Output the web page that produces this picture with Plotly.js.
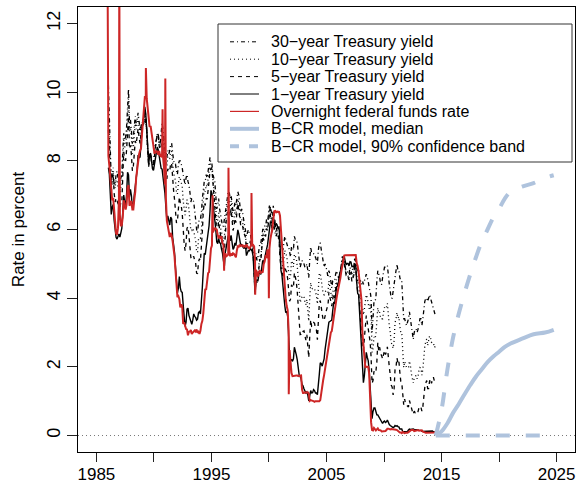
<!DOCTYPE html>
<html>
<head>
<meta charset="utf-8">
<script src="https://cdn.plot.ly/plotly-3.0.1.min.js"></script>
<style>html,body{margin:0;padding:0;background:#fff;}#chart{width:580px;height:485px;}</style>
</head>
<body>
<div id="chart"></div>
<script>
// Monthly series, first value = Jan 1986, last = Jun 2014
const startYear = 1986;

const y30 = [
10.2, 9.4, 8.1, 7.4, 7.6, 7.6, 7.3, 7.3, 7.6, 7.7, 7.5, 7.4,
7.4, 7.5, 7.6, 8.3, 8.8, 8.6, 8.7, 9.0, 9.7, 10.1, 9.1, 9.2,
8.9, 8.5, 8.7, 9.0, 9.3, 9.1, 9.2, 9.4, 9.1, 8.9, 9.0, 9.1,
9.0, 9.1, 9.3, 9.1, 8.9, 8.3, 8.1, 8.2, 8.2, 8.0, 7.9, 7.9,
8.3, 8.5, 8.6, 8.8, 8.8, 8.5, 8.5, 8.9, 9.1, 8.9, 8.6, 8.3,
8.3, 8.1, 8.3, 8.2, 8.3, 8.5, 8.5, 8.2, 8.0, 7.9, 7.9, 7.7,
7.6, 7.9, 8.0, 8.0, 7.9, 7.8, 7.6, 7.4, 7.3, 7.5, 7.6, 7.4,
7.3, 7.1, 6.8, 6.9, 6.9, 6.8, 6.6, 6.3, 6.0, 5.9, 6.2, 6.3,
6.3, 6.5, 6.9, 7.3, 7.4, 7.4, 7.6, 7.5, 7.7, 7.9, 8.1, 7.9,
7.9, 7.6, 7.5, 7.4, 7.0, 6.6, 6.7, 6.9, 6.6, 6.4, 6.3, 6.1,
6.1, 6.3, 6.6, 6.8, 7.0, 7.1, 7.1, 6.9, 7.0, 6.8, 6.5, 6.6,
6.8, 6.7, 6.9, 7.1, 7.0, 6.8, 6.5, 6.6, 6.5, 6.3, 6.1, 6.0,
5.8, 5.9, 6.0, 5.9, 5.9, 5.7, 5.7, 5.5, 5.2, 5.0, 5.3, 5.1,
5.2, 5.4, 5.6, 5.6, 5.8, 6.0, 6.0, 6.1, 6.1, 6.3, 6.2, 6.4,
6.7, 6.4, 6.1, 5.9, 6.2, 6.0, 5.9, 5.8, 5.9, 5.8, 5.8, 5.5,
5.5, 5.5, 5.4, 5.7, 5.8, 5.7, 5.6, 5.5, 5.5, 5.3, 5.2, 5.5,
5.5, 5.4, 5.8, 5.7, 5.7, 5.6, 5.4, 5.1, 4.9, 5.0, 5.1, 5.0,
5.0, 4.9, 4.9, 5.0, 4.7, 4.6, 5.1, 5.5, 5.3, 5.3, 5.3, 5.2,
5.2, 5.1, 5.0, 5.4, 5.6, 5.6, 5.4, 5.2, 5.0, 4.9, 5.0, 4.9,
4.8, 4.6, 4.8, 4.7, 4.5, 4.3, 4.5, 4.5, 4.5, 4.7, 4.8, 4.7,
4.6, 4.6, 4.8, 5.1, 5.2, 5.2, 5.1, 4.9, 4.8, 4.8, 4.7, 4.7,
4.9, 4.8, 4.7, 4.9, 4.9, 5.2, 5.1, 4.9, 4.8, 4.8, 4.5, 4.5,
4.4, 4.5, 4.4, 4.5, 4.6, 4.7, 4.6, 4.5, 4.3, 4.2, 4.0, 3.0,
3.4, 3.9, 3.9, 4.0, 4.5, 4.8, 4.7, 4.6, 4.4, 4.4, 4.6, 4.8,
4.9, 4.9, 4.9, 4.95, 4.6, 4.4, 4.2, 4.0, 4.0, 4.2, 4.5, 4.7,
4.8, 5.0, 4.8, 4.8, 4.6, 4.5, 4.5, 3.9, 3.4, 3.4, 3.3, 3.2,
3.3, 3.4, 3.6, 3.4, 3.1, 2.9, 2.8, 3.0, 3.1, 3.1, 3.0, 3.1,
3.3, 3.4, 3.4, 3.2, 3.4, 3.7, 3.9, 4.0, 4.0, 3.9, 4.0, 4.1,
4.0, 3.9, 3.8, 3.7, 3.6, 3.5
];

const y10 = [
9.6, 8.9, 7.8, 7.3, 7.7, 7.8, 7.3, 7.2, 7.45, 7.43, 7.25, 7.11,
7.08, 7.25, 7.25, 8.02, 8.61, 8.40, 8.45, 8.76, 9.42, 9.8, 8.86, 8.99,
8.67, 8.21, 8.37, 8.72, 9.09, 8.92, 9.06, 9.26, 8.98, 8.80, 8.96, 9.11,
9.09, 9.17, 9.36, 9.18, 8.86, 8.28, 8.02, 8.11, 8.19, 8.01, 7.87, 7.84,
8.21, 8.47, 8.59, 8.79, 8.76, 8.48, 8.47, 8.75, 8.89, 8.72, 8.39, 8.08,
8.09, 7.85, 8.11, 8.04, 8.07, 8.28, 8.27, 7.90, 7.65, 7.53, 7.42, 7.09,
7.03, 7.34, 7.54, 7.48, 7.39, 7.26, 6.84, 6.59, 6.42, 6.59, 6.87, 6.77,
6.60, 6.26, 5.98, 5.97, 6.04, 5.96, 5.81, 5.68, 5.36, 5.33, 5.72, 5.77,
5.75, 5.97, 6.48, 6.97, 7.18, 7.10, 7.30, 7.24, 7.46, 7.74, 7.96, 7.81,
7.78, 7.47, 7.20, 7.06, 6.63, 6.17, 6.28, 6.49, 6.20, 6.04, 5.93, 5.71,
5.65, 5.81, 6.27, 6.51, 6.74, 6.91, 6.87, 6.64, 6.83, 6.53, 6.20, 6.30,
6.58, 6.42, 6.69, 6.89, 6.71, 6.49, 6.22, 6.30, 6.21, 6.03, 5.88, 5.81,
5.54, 5.57, 5.65, 5.64, 5.65, 5.50, 5.46, 5.34, 4.81, 4.53, 4.83, 4.65,
4.72, 5.00, 5.23, 5.18, 5.54, 5.90, 5.79, 5.94, 5.92, 6.11, 6.03, 6.28,
6.66, 6.52, 6.26, 5.99, 6.44, 6.10, 6.05, 5.83, 5.80, 5.74, 5.72, 5.24,
5.16, 5.10, 4.89, 5.14, 5.39, 5.28, 5.24, 4.97, 4.73, 4.57, 4.65, 5.09,
5.04, 4.91, 5.28, 5.21, 5.16, 4.93, 4.65, 4.26, 3.87, 3.94, 4.05, 4.03,
4.05, 3.90, 3.81, 3.96, 3.57, 3.33, 3.98, 4.45, 4.27, 4.29, 4.30, 4.27,
4.15, 4.08, 3.83, 4.35, 4.72, 4.73, 4.50, 4.28, 4.13, 4.10, 4.19, 4.23,
4.22, 4.17, 4.50, 4.34, 4.14, 4.00, 4.18, 4.26, 4.20, 4.46, 4.54, 4.47,
4.42, 4.57, 4.72, 4.99, 5.11, 5.11, 5.09, 4.88, 4.72, 4.73, 4.60, 4.56,
4.76, 4.72, 4.56, 4.69, 4.75, 5.10, 5.00, 4.67, 4.52, 4.53, 4.15, 4.10,
3.74, 3.74, 3.51, 3.68, 3.88, 4.10, 4.01, 3.89, 3.69, 3.81, 3.53, 2.42,
2.52, 2.87, 2.82, 2.93, 3.29, 3.72, 3.56, 3.59, 3.40, 3.39, 3.40, 3.59,
3.73, 3.69, 3.73, 3.85, 3.42, 3.20, 3.01, 2.70, 2.65, 2.54, 2.76, 3.29,
3.39, 3.58, 3.41, 3.46, 3.17, 3.00, 3.00, 2.30, 1.98, 2.15, 2.01, 1.98,
1.97, 1.97, 2.17, 2.05, 1.80, 1.62, 1.53, 1.68, 1.72, 1.75, 1.65, 1.72,
1.91, 1.98, 1.96, 1.76, 1.93, 2.30, 2.58, 2.74, 2.81, 2.62, 2.72, 2.90,
2.86, 2.71, 2.72, 2.71, 2.56, 2.60
];

const y5 = [
8.9, 8.4, 7.46, 7.05, 7.52, 7.64, 7.06, 6.80, 6.92, 6.83, 6.76, 6.67,
6.64, 6.79, 6.79, 7.57, 8.26, 8.02, 8.01, 8.32, 8.94, 9.3, 8.35, 8.45,
8.18, 7.71, 7.83, 8.19, 8.58, 8.49, 8.66, 8.94, 8.69, 8.51, 8.79, 9.09,
9.15, 9.27, 9.51, 9.30, 8.91, 8.29, 7.83, 8.09, 8.17, 7.97, 7.81, 7.75,
8.12, 8.42, 8.60, 8.77, 8.74, 8.43, 8.33, 8.44, 8.51, 8.33, 8.02, 7.73,
7.70, 7.47, 7.77, 7.70, 7.70, 7.94, 7.91, 7.43, 7.14, 6.87, 6.62, 6.19,
6.24, 6.58, 6.95, 6.78, 6.69, 6.48, 5.84, 5.60, 5.38, 5.60, 6.04, 6.08,
5.83, 5.43, 5.19, 5.13, 5.20, 5.22, 5.09, 5.03, 4.73, 4.71, 5.06, 5.15,
5.09, 5.40, 5.94, 6.52, 6.78, 6.70, 6.91, 6.88, 7.08, 7.40, 7.72, 7.78,
7.76, 7.37, 7.05, 6.86, 6.41, 5.93, 6.01, 6.24, 6.00, 5.86, 5.69, 5.51,
5.36, 5.38, 5.97, 6.30, 6.48, 6.69, 6.64, 6.39, 6.60, 6.27, 5.97, 6.07,
6.33, 6.20, 6.54, 6.76, 6.57, 6.38, 6.12, 6.16, 6.11, 5.93, 5.80, 5.77,
5.42, 5.49, 5.61, 5.61, 5.63, 5.52, 5.46, 5.27, 4.62, 4.18, 4.54, 4.45,
4.60, 4.91, 5.14, 5.08, 5.44, 5.81, 5.68, 5.84, 5.80, 6.03, 5.97, 6.19,
6.58, 6.68, 6.50, 6.26, 6.69, 6.30, 6.18, 6.06, 5.93, 5.78, 5.70, 5.17,
4.86, 4.89, 4.64, 4.76, 4.93, 4.81, 4.76, 4.57, 4.12, 3.91, 3.97, 4.39,
4.34, 4.30, 4.74, 4.65, 4.49, 4.19, 3.81, 3.29, 2.94, 2.95, 3.05, 3.03,
3.05, 2.90, 2.78, 2.93, 2.52, 2.27, 2.87, 3.37, 3.18, 3.19, 3.29, 3.27,
3.12, 3.07, 2.79, 3.39, 3.85, 3.93, 3.69, 3.47, 3.36, 3.35, 3.53, 3.60,
3.71, 3.77, 4.17, 4.00, 3.85, 3.77, 3.98, 4.12, 4.01, 4.33, 4.45, 4.39,
4.35, 4.57, 4.72, 4.90, 5.00, 5.07, 5.04, 4.82, 4.67, 4.69, 4.58, 4.53,
4.75, 4.71, 4.48, 4.59, 4.67, 5.03, 4.88, 4.43, 4.20, 4.20, 3.67, 3.49,
2.98, 2.78, 2.48, 2.84, 3.15, 3.49, 3.30, 3.14, 2.88, 2.73, 2.29, 1.52,
1.60, 1.87, 1.82, 1.86, 2.13, 2.71, 2.46, 2.57, 2.37, 2.33, 2.23, 2.34,
2.48, 2.36, 2.43, 2.58, 2.18, 2.00, 1.76, 1.47, 1.41, 1.18, 1.35, 1.93,
1.99, 2.26, 2.11, 2.17, 1.84, 1.58, 1.54, 1.02, 0.90, 1.06, 0.91, 0.89,
0.84, 0.83, 1.02, 0.89, 0.76, 0.71, 0.62, 0.71, 0.67, 0.71, 0.67, 0.70,
0.81, 0.85, 0.82, 0.71, 0.84, 1.20, 1.40, 1.52, 1.60, 1.37, 1.37, 1.58,
1.65, 1.52, 1.64, 1.70, 1.59, 1.68
];

const y1 = [
7.8, 7.61, 7.03, 6.44, 6.65, 6.73, 6.27, 5.93, 5.77, 5.72, 5.80, 5.87,
5.78, 5.96, 6.03, 6.50, 7.00, 6.80, 6.68, 7.03, 7.67, 7.59, 6.96, 7.17,
6.99, 6.64, 6.71, 7.01, 7.40, 7.49, 7.75, 8.17, 8.09, 8.11, 8.48, 8.99,
9.05, 9.25, 9.57, 9.36, 8.98, 8.44, 7.89, 8.18, 8.22, 7.99, 7.77, 7.72,
7.92, 8.11, 8.35, 8.40, 8.32, 8.10, 7.94, 7.78, 7.76, 7.55, 7.31, 7.05,
6.64, 6.27, 6.40, 6.24, 6.13, 6.36, 6.31, 5.78, 5.57, 5.33, 4.89, 4.38,
4.15, 4.29, 4.63, 4.30, 4.19, 4.17, 3.60, 3.47, 3.18, 3.30, 3.68, 3.71,
3.50, 3.39, 3.33, 3.24, 3.36, 3.54, 3.47, 3.44, 3.36, 3.39, 3.58, 3.61,
3.54, 3.87, 4.32, 4.82, 5.31, 5.27, 5.48, 5.56, 5.76, 6.11, 6.54, 7.14,
7.05, 6.70, 6.43, 6.27, 6.00, 5.64, 5.59, 5.75, 5.62, 5.59, 5.43, 5.31,
5.09, 4.94, 5.34, 5.54, 5.64, 5.81, 5.85, 5.67, 5.83, 5.55, 5.42, 5.47,
5.61, 5.53, 5.80, 5.99, 5.87, 5.69, 5.54, 5.56, 5.52, 5.46, 5.46, 5.53,
5.24, 5.31, 5.39, 5.38, 5.44, 5.41, 5.36, 5.21, 4.71, 4.12, 4.53, 4.52,
4.51, 4.70, 4.78, 4.69, 4.85, 5.10, 5.03, 5.20, 5.25, 5.43, 5.55, 5.84,
6.12, 6.22, 6.22, 6.15, 6.33, 6.17, 6.08, 6.18, 6.13, 6.01, 6.09, 5.60,
4.81, 4.68, 4.30, 3.98, 3.78, 3.58, 3.62, 3.47, 2.82, 2.33, 2.18, 2.22,
2.16, 2.23, 2.57, 2.48, 2.35, 2.20, 1.96, 1.76, 1.72, 1.65, 1.49, 1.45,
1.36, 1.30, 1.24, 1.27, 1.18, 1.01, 1.12, 1.31, 1.24, 1.25, 1.34, 1.31,
1.24, 1.24, 1.19, 1.43, 1.78, 2.12, 2.10, 2.02, 2.12, 2.23, 2.50, 2.67,
2.86, 3.03, 3.30, 3.32, 3.33, 3.36, 3.64, 3.87, 3.85, 4.18, 4.33, 4.35,
4.45, 4.68, 4.77, 4.90, 5.00, 5.16, 5.22, 5.08, 4.97, 5.01, 5.01, 4.94,
5.06, 5.05, 4.92, 4.93, 4.91, 4.96, 4.96, 4.47, 4.14, 4.10, 3.50, 3.26,
2.71, 2.05, 1.54, 1.74, 2.06, 2.42, 2.28, 2.18, 1.91, 1.42, 1.07, 0.49,
0.70, 0.80, 0.80, 0.70, 0.60, 0.60, 0.55, 0.50, 0.45, 0.40, 0.35, 0.40,
0.42, 0.38, 0.40, 0.45, 0.37, 0.32, 0.29, 0.26, 0.26, 0.23, 0.25, 0.29,
0.27, 0.29, 0.26, 0.25, 0.19, 0.18, 0.19, 0.11, 0.10, 0.11, 0.11, 0.12,
0.12, 0.16, 0.19, 0.18, 0.19, 0.19, 0.19, 0.18, 0.18, 0.18, 0.18, 0.16,
0.15, 0.16, 0.15, 0.12, 0.12, 0.14, 0.12, 0.13, 0.12, 0.12, 0.12, 0.13,
0.12, 0.12, 0.13, 0.11, 0.10, 0.10
];

const fedFunds = [
8.14, 7.86, 7.48, 6.99, 6.85, 6.92, 6.56, 6.17, 5.89, 5.85, 6.04, 6.91,
6.43, 6.10, 6.13, 6.37, 6.85, 6.73, 6.58, 6.73, 7.22, 7.29, 6.69, 6.77,
6.83, 6.58, 6.58, 6.87, 7.09, 7.51, 7.75, 8.01, 8.19, 8.30, 8.35, 8.76,
9.12, 9.36, 9.85, 9.84, 9.81, 9.53, 9.24, 8.99, 9.02, 8.84, 8.55, 8.45,
8.23, 8.24, 8.28, 8.26, 8.18, 8.29, 8.15, 8.13, 8.20, 8.11, 7.81, 7.31,
6.91, 6.25, 6.12, 5.91, 5.78, 5.90, 5.82, 5.66, 5.45, 5.21, 4.81, 4.43,
4.03, 4.06, 3.98, 3.73, 3.82, 3.76, 3.25, 3.30, 3.22, 3.10, 3.09, 2.92,
3.02, 3.03, 3.07, 2.96, 3.00, 3.04, 3.06, 3.03, 3.09, 2.99, 3.02, 2.96,
3.05, 3.25, 3.34, 3.56, 4.01, 4.25, 4.26, 4.47, 4.73, 4.76, 5.29, 5.45,
5.53, 5.92, 5.98, 6.05, 6.01, 6.00, 5.85, 5.74, 5.80, 5.76, 5.80, 5.60,
5.56, 5.22, 5.31, 5.22, 5.24, 5.27, 5.40, 5.22, 5.30, 5.24, 5.31, 5.29,
5.25, 5.19, 5.39, 5.51, 5.50, 5.56, 5.52, 5.54, 5.54, 5.50, 5.52, 5.50,
5.56, 5.51, 5.49, 5.45, 5.49, 5.56, 5.54, 5.55, 5.51, 5.07, 4.83, 4.68,
4.63, 4.76, 4.81, 4.74, 4.74, 4.76, 4.99, 5.07, 5.22, 5.20, 5.42, 5.30,
5.45, 5.73, 5.85, 6.02, 6.27, 6.53, 6.54, 6.50, 6.52, 6.51, 6.51, 6.40,
5.98, 5.49, 5.31, 4.80, 4.21, 3.97, 3.77, 3.65, 3.07, 2.49, 2.09, 1.82,
1.73, 1.74, 1.73, 1.75, 1.75, 1.75, 1.73, 1.74, 1.75, 1.75, 1.34, 1.24,
1.24, 1.26, 1.25, 1.26, 1.26, 1.22, 1.01, 1.03, 1.01, 1.01, 1.00, 0.98,
1.00, 1.01, 1.00, 1.00, 1.00, 1.03, 1.26, 1.43, 1.61, 1.76, 1.93, 2.16,
2.28, 2.50, 2.63, 2.79, 3.00, 3.04, 3.26, 3.50, 3.62, 3.78, 4.00, 4.16,
4.29, 4.49, 4.59, 4.79, 4.94, 4.99, 5.24, 5.25, 5.25, 5.25, 5.25, 5.24,
5.25, 5.26, 5.26, 5.25, 5.25, 5.25, 5.26, 5.02, 4.94, 4.76, 4.49, 4.24,
3.94, 2.98, 2.61, 2.28, 1.98, 2.00, 2.01, 2.00, 1.81, 0.97, 0.39, 0.16,
0.15, 0.22, 0.18, 0.15, 0.18, 0.21, 0.16, 0.16, 0.15, 0.12, 0.12, 0.12,
0.11, 0.13, 0.16, 0.20, 0.20, 0.18, 0.18, 0.19, 0.19, 0.19, 0.19, 0.18,
0.17, 0.16, 0.14, 0.10, 0.09, 0.09, 0.07, 0.10, 0.08, 0.07, 0.08, 0.07,
0.08, 0.10, 0.13, 0.14, 0.16, 0.16, 0.16, 0.13, 0.14, 0.16, 0.16, 0.16,
0.14, 0.15, 0.14, 0.15, 0.11, 0.09, 0.09, 0.08, 0.08, 0.09, 0.08, 0.09,
0.07, 0.07, 0.08, 0.09, 0.09, 0.10
];

// Single-day spikes of the overnight rate (decimal year, percent)
const ffSpikeTimes  = [1985.97, 1986.99, 1989.30, 1990.75, 1990.99, 1995.10, 1996.10, 1996.48, 1998.48, 1998.80, 1999.99, 2001.72];
const ffSpikeValues = [13.5, 14.0, 10.7, 9.5, 10.4, 7.0, 4.8, 7.8, 7.06, 4.1, 4.0, 1.2];

// B-CR model projection
const modelTimes  = [2014.5, 2015, 2015.5, 2016, 2016.5, 2017, 2017.5, 2018, 2018.5, 2019, 2019.5, 2020, 2020.5, 2021, 2022, 2023, 2024, 2024.75];
const modelMedian = [0.0, 0.12, 0.35, 0.66, 0.92, 1.2, 1.47, 1.72, 1.93, 2.14, 2.3, 2.44, 2.58, 2.68, 2.82, 2.95, 3.0, 3.08];
const modelUpper  = [0.0, 0.75, 1.9, 2.85, 3.55, 4.15, 4.7, 5.2, 5.65, 6.0, 6.35, 6.6, 6.9, 7.1, 7.25, 7.35, 7.5, 7.58];
const modelLower  = [0, 0, 0, 0, 0, 0, 0, 0, 0, 0, 0, 0, 0, 0, 0, 0, 0, 0];

const xTicks = [1985, 1990, 1995, 2000, 2005, 2010, 2015, 2020, 2025];
const xTickLabels = ['1985', '', '1995', '', '2005', '', '2015', '', '2025'];
const yTicks = [0, 2, 4, 6, 8, 10, 12];

const legendLabels = ['30\u2212year Treasury yield', '10\u2212year Treasury yield', '5\u2212year Treasury yield',
  '1\u2212year Treasury yield', 'Overnight federal funds rate', 'B\u2212CR model, median', 'B\u2212CR model, 90% confidence band'];

// ---------- build traces ----------
const monthT = arr => arr.map((_, i) => startYear + (i + 0.5) / 12);

const ffPts = fedFunds.map((v, i) => [startYear + (i + 0.5) / 12, v])
  .concat(ffSpikeTimes.map((t, i) => [t, ffSpikeValues[i]]))
  .sort((a, b) => a[0] - b[0]);

const black = '#000000';
const red = '#CD2626';
const blue = '#AFC3DD';

const dash30 = '4px,3px,1px,3px';
const dash10 = '1px,3px';
const dash5 = '4px,4px';
const dashBand = '14px,16px';

const traces = [
  {x: monthT(y30), y: y30, mode: 'lines', line: {color: black, width: 1.3, dash: dash30}, name: legendLabels[0]},
  {x: monthT(y10), y: y10, mode: 'lines', line: {color: black, width: 1.3, dash: dash10}, name: legendLabels[1]},
  {x: monthT(y5), y: y5, mode: 'lines', line: {color: black, width: 1.3, dash: dash5}, name: legendLabels[2]},
  {x: monthT(y1), y: y1, mode: 'lines', line: {color: black, width: 1.4}, name: legendLabels[3]},
  {x: ffPts.map(p => p[0]), y: ffPts.map(p => p[1]), mode: 'lines', line: {color: red, width: 2}, name: legendLabels[4]},
  {x: modelTimes, y: modelMedian, mode: 'lines', line: {color: blue, width: 4, shape: 'spline'}, name: legendLabels[5]},
  {x: modelTimes, y: modelUpper, mode: 'lines', line: {color: blue, width: 4, dash: dashBand, shape: 'spline'}, name: legendLabels[6]},
  {x: modelTimes, y: modelLower, mode: 'lines', line: {color: blue, width: 4, dash: dashBand}, name: legendLabels[6] + ' (lower)'}
];

// ---------- custom legend (R-style box) ----------
const L = 78, R = 575, T = 7, B = 452;
const px2x = p => (p - L) / (R - L);
const py2y = p => (B - p) / (B - T);
const legStyles = [
  {color: black, width: 1, dash: dash30},
  {color: black, width: 1, dash: dash10},
  {color: black, width: 1, dash: dash5},
  {color: black, width: 1, dash: 'solid'},
  {color: red, width: 1.2, dash: 'solid'},
  {color: blue, width: 4, dash: 'solid'},
  {color: blue, width: 4, dash: '9px,10px'}
];
const shapes = [
  {type: 'line', xref: 'paper', yref: 'y', x0: 0, x1: 1, y0: 0, y1: 0, layer: 'below',
   line: {color: '#777', width: 1, dash: '1px,3px'}},
  {type: 'rect', xref: 'paper', yref: 'paper', x0: px2x(218), x1: px2x(572), y0: py2y(162), y1: py2y(24),
   line: {color: '#333', width: 1}, fillcolor: 'rgba(255,255,255,1)'}
];
const annotations = [];
legendLabels.forEach((lab, k) => {
  const yc = 41.8 + 17.4 * k;
  shapes.push({type: 'line', xref: 'paper', yref: 'paper', x0: px2x(230), x1: px2x(259), y0: py2y(yc), y1: py2y(yc), line: legStyles[k]});
  annotations.push({xref: 'paper', yref: 'paper', x: px2x(269), y: py2y(yc), xanchor: 'left', yanchor: 'middle',
    text: lab, showarrow: false, font: {size: 16, color: '#000'}});
});

const layout = {
  width: 580, height: 485,
  margin: {l: L, r: 580 - R, t: T, b: 485 - B},
  paper_bgcolor: '#fff', plot_bgcolor: '#fff',
  showlegend: false,
  font: {family: '"Liberation Sans", Arial, Helvetica, sans-serif', color: '#000'},
  xaxis: {
    range: [1983.4, 2026.6], tickmode: 'array', tickvals: xTicks, ticktext: xTickLabels,
    ticks: 'outside', ticklen: 9, tickwidth: 1, tickcolor: '#222',
    showline: true, mirror: true, linecolor: '#000', linewidth: 1,
    showgrid: false, zeroline: false, tickfont: {size: 17}, automargin: false,
    ticklabelstandoff: -2
  },
  yaxis: {
    range: [-0.48, 12.48], tickmode: 'array', tickvals: yTicks,
    ticks: 'outside', ticklen: 10, tickwidth: 1, tickcolor: '#222', tickangle: -90,
    showline: true, mirror: true, linecolor: '#000', linewidth: 1,
    showgrid: false, zeroline: false, tickfont: {size: 18}, automargin: false,
    title: {text: 'Rate in percent', font: {size: 17}, standoff: 14}
  },
  shapes: shapes,
  annotations: annotations
};

Plotly.newPlot('chart', traces, layout, {staticPlot: true, displayModeBar: false});
</script>
</body>
</html>
